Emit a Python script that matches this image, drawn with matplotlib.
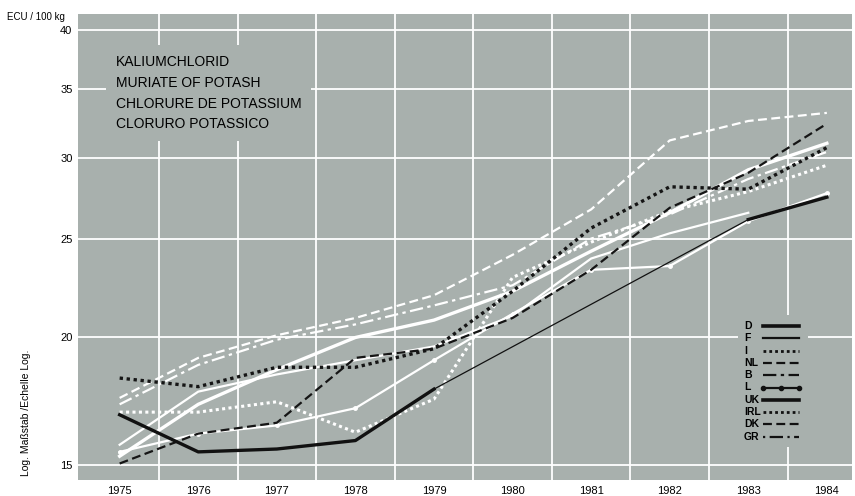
import numpy as np
import matplotlib.pyplot as plt
from matplotlib.lines import Line2D
from matplotlib.patches import Rectangle

plt.rcParams['font.family'] = ['Liberation Sans', 'DejaVu Sans']

years = np.arange(1975, 1985)
nan = np.nan

# ECU / 100 kg
d_vals = [16.8, 15.45, 15.55, 15.85, 17.8, nan, nan, nan, 26.1, 27.45]
f_vals = [15.7, 17.7, 18.4, 19.0, 19.6, 21.0, 23.9, 25.3, 26.5, nan]
i_vals = [18.25, 17.9, 18.7, 18.7, 19.5, 22.2, 25.6, 28.1, 27.95, 30.7]
nl_vals = [15.05, 16.1, 16.5, 19.1, 19.5, 20.9, 23.3, 26.8, 29.0, 32.4]
b_vals = [17.2, 18.8, 19.9, 20.6, 21.5, 22.5, 25.0, 26.4, 28.6, 30.4]
l_vals = [15.45, 16.1, 16.4, 17.05, 19.0, 21.1, 23.3, 23.5, 26.0, 27.7]
uk_vals = [15.3, 17.2, 18.6, 20.0, 20.8, 22.2, 24.3, 26.5, 29.2, 31.0]
irl_vals = [16.9, 16.9, 17.3, 16.15, 17.4, 22.9, 24.8, 26.6, 27.8, 29.5]
dk_vals = [17.45, 19.1, 20.1, 20.9, 22.0, 24.1, 26.7, 31.2, 32.6, 33.2]

y_ticks = [15, 20, 25, 30, 35, 40]
title_lines = ['KALIUMCHLORID', 'MURIATE OF POTASH', 'CHLORURE DE POTASSIUM', 'CLORURO POTASSICO']
legend_names = ['D', 'F', 'I', 'NL', 'B', 'L', 'UK', 'IRL', 'DK', 'GR']

bg = '#a8b0ad'
dot = (0, (1, 1.1))
dash = (0, (4, 2))
dashdot = (0, (6, 2, 1.5, 2))

W, H = 855, 496
fig = plt.figure(figsize=(W / 100, H / 100), dpi=100)
ax = fig.add_axes([78 / W, 1 - 480 / H, 774 / W, 466 / H])
ax.set_facecolor(bg)
ax.set_yscale('log')
ax.set_xlim(1974.47, 1984.32)
ax.set_ylim(14.5, 41.5)

# white grid
for yy in y_ticks:
    ax.axhline(yy, color='white', lw=1.3, zorder=1)
for xx in np.arange(1975.5, 1984, 1):
    ax.axvline(xx, color='white', lw=1.3, zorder=1)

# white lines
ax.plot(years, dk_vals, color='white', lw=1.6, ls=dash, zorder=3)
ax.plot(years, b_vals, color='white', lw=1.6, ls=dashdot, zorder=3)
ax.plot(years, irl_vals, color='white', lw=2.2, ls=dot, zorder=3)
ax.plot(years, f_vals, color='white', lw=1.6, zorder=3)
ax.plot(years, uk_vals, color='white', lw=2.4, zorder=3)
ax.plot(years, l_vals, color='white', lw=1.6, marker='o', ms=2.5, zorder=3)

# black lines
ax.plot(years, i_vals, color='#151515', lw=2.4, ls=dot, zorder=4)
ax.plot(years, nl_vals, color='#151515', lw=1.6, ls=dash, zorder=4)
ax.plot(years, d_vals, color='#111111', lw=2.4, zorder=5)
ax.plot([years[4], years[8]], [d_vals[4], d_vals[8]], color='#111111', lw=0.9, zorder=5)

for s in ax.spines.values():
    s.set_visible(False)
ax.tick_params(length=0, labelsize=8, pad=4)
ax.set_xticks(years)
ax.set_xticklabels([str(y) for y in years])
ax.set_yticks(y_ticks)
ax.set_yticklabels([str(y) for y in y_ticks])
ax.minorticks_off()

ax.text(0.049, 0.912, '\n'.join(title_lines), transform=ax.transAxes, fontsize=10,
        va='top', ha='left', linespacing=1.62, zorder=6,
        bbox=dict(facecolor=bg, edgecolor='none', pad=7))

fig.text(7 / W, 1 - 17 / H, 'ECU / 100 kg', fontsize=7, ha='left', va='center')
fig.text(26 / W, 1 - 413 / H, 'Log. Maßstab /Echelle Log.', fontsize=7.5, rotation=90,
         ha='center', va='center')

# legend drawn by hand: labels left, line samples right
k = '#111111'
styles = [
    dict(lw=2.6),
    dict(lw=1.6),
    dict(lw=2, ls=dot),
    dict(lw=1.6, ls=dash),
    dict(lw=1.6, ls=dashdot),
    dict(lw=1.6, marker='o', ms=3, markevery=[0, 1, 2]),
    dict(lw=2.6),
    dict(lw=2, ls=dot),
    dict(lw=1.6, ls=dash),
    dict(lw=1.6, ls=(0, (1, 2, 6, 2))),
]
fig.add_artist(Rectangle((738 / W, 1 - 447 / H), 70 / W, 132 / H, transform=fig.transFigure,
                         facecolor=bg, edgecolor='none', zorder=5))
for n, (name, st) in enumerate(zip(legend_names, styles)):
    py = 326 + n * 12.3
    fig.text(744 / W, 1 - py / H, name, fontsize=7.5, fontweight='bold',
             ha='left', va='center', zorder=6)
    if 'marker' in st:
        xs = [763 / W, 781 / W, 799 / W]
    else:
        xs = [763 / W, 799 / W]
    fig.add_artist(Line2D(xs, [1 - py / H] * len(xs), color=k, transform=fig.transFigure,
                          zorder=6, **st))

fig.savefig('out.png', dpi=100)
